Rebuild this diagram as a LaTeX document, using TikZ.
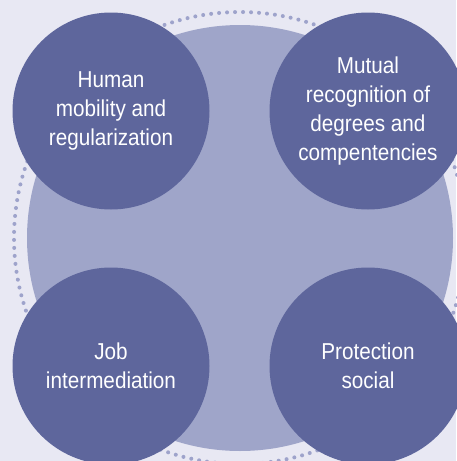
\documentclass[tikz,border=0pt]{standalone}
\usepackage{fontspec}
\setmainfont{Liberation Sans}[FakeStretch=0.9]
\usetikzlibrary{positioning}
\definecolor{bgcol}{HTML}{E8E8F3}
\definecolor{lightcol}{HTML}{9FA5C9}
\definecolor{darkcol}{HTML}{5E669C}
\definecolor{dotcol}{HTML}{9EA3CB}
\tikzset{
style1/.style= {circle, fill=lightcol, minimum size=426pt, inner sep=0pt},
style2/.style= {circle, fill=darkcol, minimum size=197pt, inner sep=0pt, text=white, align=center, font=\fontsize{23}{29}\selectfont},
style3/.style= {dotcol, line width=4pt, line cap=round, dash pattern=on 0pt off 8pt}
}

\begin{document}
\begin{tikzpicture}[x=1pt, y=-1pt]
\fill[bgcol] (0,0) rectangle (456,461);
\useasboundingbox (0,0) rectangle (456,461);

\draw[style3] (240,238) circle (226pt);
\node[style1] (hub) at (240,238) {};

\node[style2] (c1) at (111,111) {Human\\mobility and\\regularization};
\node[style2] (c2) at (368,111) {Mutual\\recognition of\\degrees and\\compentencies};
\node[style2] (c3) at (111,366) {Job\\intermediation};
\node[style2] (c4) at (368,366) {Protection\\social};
\end{tikzpicture}
\end{document}
